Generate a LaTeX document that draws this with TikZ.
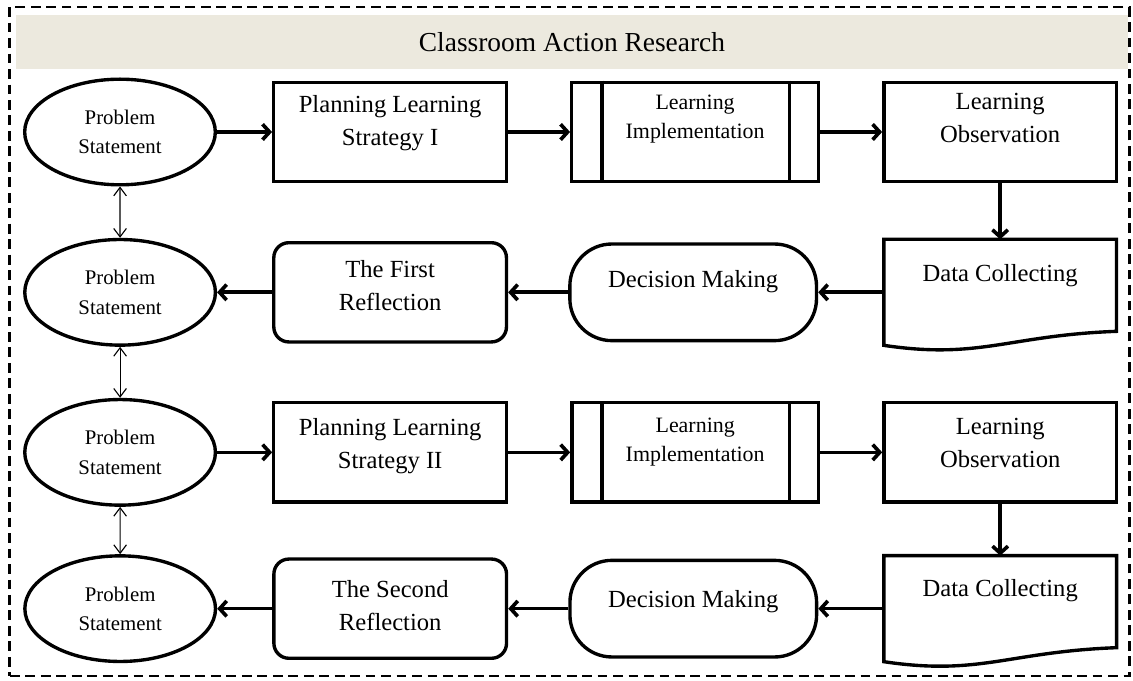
\documentclass[tikz,border=0pt]{standalone}
\usepackage{fontspec}
\setmainfont{Liberation Serif}
\usetikzlibrary{arrows.meta,shapes,positioning}
\definecolor{band}{RGB}{236,233,222}

\begin{document}
\begin{tikzpicture}[
  x=0.025cm, y=-0.025cm, line width=2.4pt,
  % STYLES
  every node/.style={inner sep=0pt},
  % OWNs
  pnode/.style={ellipse,draw,minimum width=4.765cm,minimum height=2.64cm,align=center,font=\fontsize{14.8}{21}\selectfont},
  bnode/.style={rectangle,draw,minimum width=5.815cm,minimum height=2.48cm},
  inode/.style={rectangle,draw,minimum width=6.165cm,minimum height=2.48cm},
  rnode/.style={rectangle,draw,rounded corners=0.375cm,minimum width=5.815cm,minimum height=2.48cm},
  dnode/.style={rectangle,draw,rounded corners=1.05cm,minimum width=6.165cm,minimum height=2.415cm},
  cnode/.style={rectangle,draw=none,outer sep=0pt,minimum width=5.815cm,minimum height=2.65cm},
  btxt/.style={align=center,font=\fontsize{17.5}{23.5}\selectfont},
  stxt/.style={align=center,font=\fontsize{15.6}{20.6}\selectfont},
  flow/.style={-{Straight Barb[length=5pt,width=11pt]},line width=2.6pt},
  link/.style={{Straight Barb[length=6pt,width=9pt]}-{Straight Barb[length=6pt,width=9pt]},line width=0.8pt}]

  \useasboundingbox (0,0) rectangle (1133,681);

  \node[fill=band,minimum width=27.8cm,minimum height=1.35cm,font=\fontsize{19.5}{23}\selectfont] (title) at (572,42) {Classroom Action Research};
  \node[draw,line width=2pt,dash pattern=on 7pt off 4pt,minimum width=27.975cm,minimum height=16.725cm] (frame) at (569.5,341.5) {};

  % first cycle
  \node[pnode] (ell1) at (120,132) {Problem\\Statement};
  \node[bnode] [right=1.375cm of ell1] (plan1) {};
  \node[inode] [right=1.55cm of plan1] (impl1) {};
  \node[bnode] [right=1.55cm of impl1] (obs1) {};

  \node[cnode] [below=1.4cm of obs1] (data2) {};
  \node[dnode] [left=1.64cm of data2] (dec2) {};
  \node[rnode] [left=1.5cm of dec2] (refl2) {};
  \node[pnode] [left=1.375cm of refl2] (ell2) {Problem\\Statement};

  % second cycle
  \node[pnode] [below=1.275cm of ell2] (ell3) {Problem\\Statement};
  \node[bnode] [right=1.375cm of ell3] (plan3) {};
  \node[inode] [right=1.55cm of plan3] (impl3) {};
  \node[bnode] [right=1.55cm of impl3] (obs3) {};

  \node[cnode] [below=1.3cm of obs3] (data4) {};
  \node[dnode] [left=1.64cm of data4] (dec4) {};
  \node[rnode] [left=1.5cm of dec4] (refl4) {};
  \node[pnode] [left=1.375cm of refl4] (ell4) {Problem\\Statement};

  % texts
  \node[btxt] (plan1t) at ([yshift=0.225cm]plan1.center) {Planning Learning\\Strategy I};
  \node[stxt] (impl1t) at ([yshift=0.32cm]impl1.center) {Learning\\Implementation};
  \node[btxt] (obs1t) at ([yshift=0.35cm]obs1.center) {Learning\\Observation};
  \node[btxt] (data2t) at ([yshift=0.41cm]data2.center) {Data Collecting};
  \node[btxt] (dec2t) at ([yshift=0.28cm]dec2.center) {Decision Making};
  \node[btxt] (refl2t) at ([yshift=0.17cm]refl2.center) {The First\\Reflection};

  \node[btxt] (plan3t) at ([yshift=0.16cm]plan3.center) {Planning Learning\\Strategy II};
  \node[stxt] (impl3t) at ([yshift=0.25cm]impl3.center) {Learning\\Implementation};
  \node[btxt] (obs3t) at ([yshift=0.23cm]obs3.center) {Learning\\Observation};
  \node[btxt] (data4t) at ([yshift=0.46cm]data4.center) {Data Collecting};
  \node[btxt] (dec4t) at ([yshift=0.18cm]dec4.center) {Decision Making};
  \node[btxt] (refl4t) at ([yshift=0.07cm]refl4.center) {The Second\\Reflection};

  % side bars and wavy bottoms
  \foreach \n in {impl1,impl3}{
    \draw ([xshift=0.8cm]\n.north west) -- ([xshift=0.8cm]\n.south west);
    \draw ([xshift=-0.76cm]\n.north east) -- ([xshift=-0.76cm]\n.south east);
  }
  \foreach \n in {data2,data4}
    \draw (\n.north west) -- (\n.north east) -- ([yshift=0.35cm]\n.south east)
      .. controls ([xshift=-2.7cm,yshift=0.25cm]\n.south east) and ([xshift=2.4cm,yshift=-0.36cm]\n.south west) .. (\n.south west) -- cycle;

  \path[flow]
    (ell1) edge (plan1)
    (plan1) edge (impl1)
    (impl1) edge (obs1)
    (obs1) edge (data2)
    (data2) edge (dec2)
    (dec2) edge (refl2)
    (refl2) edge (ell2)
    (ell3) edge (plan3)
    (plan3) edge (impl3)
    (impl3) edge (obs3)
    (obs3) edge (data4)
    (data4) edge (dec4)
    (dec4) edge (refl4)
    (refl4) edge (ell4);

  \path[link]
    (ell1) edge (ell2)
    (ell2) edge (ell3)
    (ell3) edge (ell4);
\end{tikzpicture}
\end{document}
